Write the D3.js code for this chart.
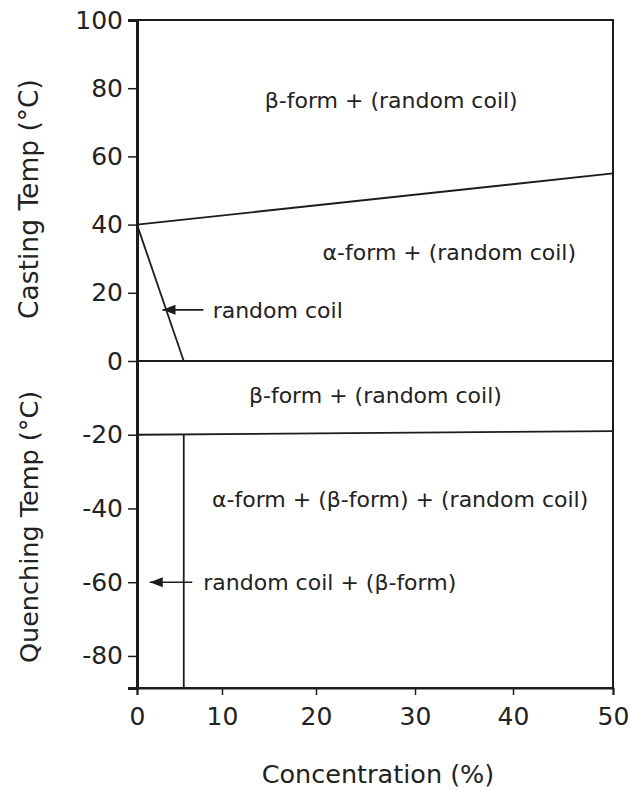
<!DOCTYPE html>
<html>
<head>
<meta charset="utf-8">
<script src="https://cdn.jsdelivr.net/npm/d3@7"></script>
<style>
  html, body { margin: 0; padding: 0; background: #fff; }
  text { font-family: "DejaVu Sans", Verdana, sans-serif; fill: #222; }
</style>
</head>
<body>
<div id="chart"></div>
<script>
// axis ticks
const xTicks = [0, 10, 20, 30, 40, 50];
const yTicks = [100, 80, 60, 40, 20, 0, -20, -40, -60, -80];

// phase boundaries: [concentration %, temperature °C]
const betaAlphaBoundary = [[0, 40], [50, 55]];
const randomCoilBoundary = [[0, 40], [5.5, 0]];
const zeroLine = [[0, 0], [50, 0]];
const quenchBoundary = [[0, -20], [50, -19]];
const quenchCoilBoundary = [[5.5, -20], [5.5, -88.7]];

// arrows: from tail to tip
const arrows = [
  { from: [7.8, 15], to: [3.0, 15] },
  { from: [6.5, -60], to: [1.5, -60] }
];

// region labels
const labels = [
  { text: 'β-form + (random coil)', x: 27.6, y: 76.5, anchor: 'middle' },
  { text: 'α-form + (random coil)', x: 33.5, y: 32, anchor: 'middle' },
  { text: 'random coil', x: 8.9, y: 15, anchor: 'start' },
  { text: 'β-form + (random coil)', x: 26, y: -9.3, anchor: 'middle' },
  { text: 'α-form + (β-form) + (random coil)', x: 28.5, y: -37.5, anchor: 'middle' },
  { text: 'random coil + (β-form)', x: 7.8, y: -60, anchor: 'start' }
];

const width = 631;
const height = 791;

const svg = d3.select('#chart').append('svg')
  .attr('width', width)
  .attr('height', height);

// the scanned figure is slightly uneven, so both scales are piecewise
const x = d3.scaleLinear()
  .domain(xTicks)
  .range([137, 222, 316, 415, 513, 613]);

const y = d3.scaleLinear()
  .domain([-88.7, 0, 100])
  .range([688, 361, 20]);

const ink = '#1c1c1c';
const fmt = d => String(d); // plain hyphen, as in the original

// frame
svg.append('rect')
  .attr('x', x(0)).attr('y', y(100))
  .attr('width', x(50) - x(0)).attr('height', y(-88.7) - y(100))
  .attr('fill', 'none').attr('stroke', ink).attr('stroke-width', 2);

// y axis
const yAxis = svg.append('g')
  .attr('transform', `translate(${x(0)},0)`)
  .call(d3.axisLeft(y).tickValues(yTicks).tickSize(9).tickPadding(5).tickFormat(fmt));
yAxis.select('.domain').attr('stroke', ink).attr('stroke-width', 3);
yAxis.selectAll('.tick line').attr('stroke', ink).attr('stroke-width', 1.5);
yAxis.selectAll('.tick text')
  .style('font-family', '"DejaVu Sans", Verdana, sans-serif')
  .style('font-size', '25px').attr('fill', '#2a2a2a');

// x axis
const xAxis = svg.append('g')
  .attr('transform', `translate(0,${y(-88.7)})`)
  .call(d3.axisBottom(x).tickValues(xTicks).tickSize(7).tickPadding(12).tickFormat(fmt));
xAxis.select('.domain').attr('stroke', ink).attr('stroke-width', 2);
xAxis.selectAll('.tick line').attr('stroke', ink).attr('stroke-width', 1.5);
xAxis.selectAll('.tick text')
  .style('font-family', '"DejaVu Sans", Verdana, sans-serif')
  .style('font-size', '25px').attr('fill', '#2a2a2a');

// boundaries
const line = d3.line().x(d => x(d[0])).y(d => y(d[1]));
[betaAlphaBoundary, randomCoilBoundary, zeroLine, quenchBoundary, quenchCoilBoundary].forEach(b => {
  svg.append('path')
    .attr('d', line(b))
    .attr('fill', 'none')
    .attr('stroke', ink)
    .attr('stroke-width', 1.8);
});

// arrows
arrows.forEach(a => {
  svg.append('path')
    .attr('d', line([a.from, a.to]))
    .attr('stroke', ink).attr('stroke-width', 1.6);
  const tx = x(a.to[0]), ty = y(a.to[1]);
  svg.append('path')
    .attr('d', `M${tx},${ty} l13,-5 l0,10 z`)
    .attr('fill', ink);
});

// region labels
svg.append('g').selectAll('text')
  .data(labels)
  .join('text')
  .attr('x', d => x(d.x))
  .attr('y', d => y(d.y))
  .attr('dy', '0.35em')
  .attr('text-anchor', d => d.anchor)
  .style('font-size', '22px')
  .text(d => d.text);

// axis titles
svg.append('text')
  .attr('transform', `translate(38,${y(47.5)}) rotate(-90)`)
  .attr('text-anchor', 'middle')
  .style('font-size', '26.5px')
  .text('Casting Temp (°C)');

svg.append('text')
  .attr('transform', `translate(38,${y(-45)}) rotate(-90)`)
  .attr('text-anchor', 'middle')
  .style('font-size', '25.5px')
  .text('Quenching Temp (°C)');

svg.append('text')
  .attr('x', (x(0) + x(50)) / 2 + 3)
  .attr('y', 783)
  .attr('text-anchor', 'middle')
  .style('font-size', '25.5px')
  .text('Concentration (%)');
</script>
</body>
</html>
